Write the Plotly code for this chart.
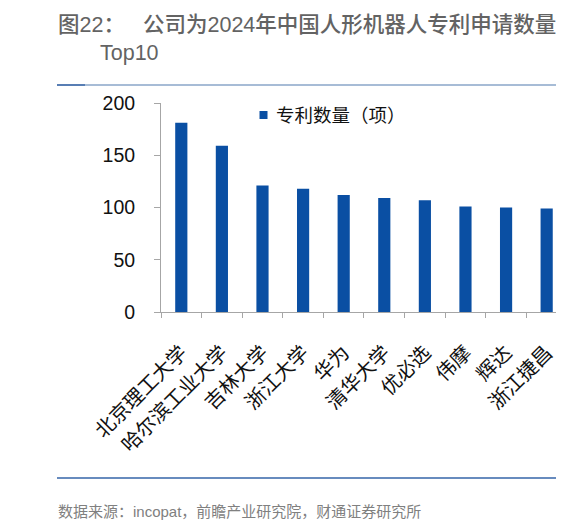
import plotly.graph_objects as go

categories = ["北京理工大学", "哈尔滨工业大学", "吉林大学", "浙江大学", "华为",
              "清华大学", "优必选", "伟摩", "辉达", "浙江捷昌"]
patents = [181, 159, 121, 118, 112, 109, 107, 101, 100, 99]
series_name = "专利数量（项）"
y_ticks = [0, 50, 100, 150, 200]
title_prefix = "图22："
title_main = "公司为2024年中国人形机器人专利申请数量"
title_line2 = "Top10"
source_text = "数据来源：incopat，前瞻产业研究院，财通证券研究所"

# page body has an 8px default margin; work in reference pixel coords and shift
OFF = 8
W, H = 581 - OFF, 529 - OFF
L, R, T, B = 161, 556, 103, 312  # plot area in reference pixels
FONT = "Liberation Sans, Arial, Noto Sans CJK SC, sans-serif"
BAR = "#0A4FA3"


def px(x):
    return (x - L) / (R - L)


def py(y):
    return (B - y) / (B - T)


fig = go.Figure()
fig.add_trace(go.Bar(
    x=categories, y=patents, name=series_name, width=0.3,
    marker=dict(color=BAR, line=dict(width=0)), showlegend=False,
))

fig.update_layout(
    width=W, height=H, autosize=False,
    margin=dict(l=L - OFF, r=(W + OFF) - R, t=T - OFF, b=(H + OFF) - B, pad=0),
    paper_bgcolor="white", plot_bgcolor="white",
    font=dict(family=FONT, color="#111111"),
    xaxis=dict(
        type="category", range=[-0.5, 9.23], tickangle=-45,
        tickson="boundaries", ticks="outside", ticklen=5, tickcolor="#a6a6a6",
        showline=True, linecolor="#a6a6a6", linewidth=1, showgrid=False,
        ticklabelstandoff=20,
        tickfont=dict(size=20, color="#111111"), fixedrange=True,
    ),
    yaxis=dict(
        range=[0, 200], tickvals=y_ticks, ticks="outside", ticklen=6,
        tickcolor="#a6a6a6", showline=True, linecolor="#a6a6a6", linewidth=1,
        showgrid=False, zeroline=False, ticklabelstandoff=15,
        tickfont=dict(size=19.5, color="#111111"), fixedrange=True,
    ),
)

shapes = [
    # top separator line
    dict(type="line", xref="paper", yref="paper", x0=px(57), x1=px(556),
         y0=py(85), y1=py(85), line=dict(color="#8aa6c9", width=1.5)),
    dict(type="line", xref="paper", yref="paper", x0=px(57), x1=px(85),
         y0=py(85), y1=py(85), line=dict(color="#3e6aa8", width=1.5)),
    # bottom separator line
    dict(type="line", xref="paper", yref="paper", x0=px(57), x1=px(556),
         y0=py(478), y1=py(478), line=dict(color="#3565a8", width=1.5)),
    # fragments of neighbouring chart at right edge
    dict(type="line", xref="paper", yref="paper", x0=px(578), x1=px(582),
         y0=py(85), y1=py(85), line=dict(color="#3e6aa8", width=1.5)),
    dict(type="line", xref="paper", yref="paper", x0=px(578), x1=px(582),
         y0=py(478), y1=py(478), line=dict(color="#3565a8", width=1.5)),
    dict(type="rect", xref="paper", yref="paper", x0=px(578.5), x1=px(582),
         y0=py(33), y1=py(17), fillcolor="#777777", line=dict(width=0)),
    # legend marker
    dict(type="rect", xref="paper", yref="paper", x0=px(259.5), x1=px(267.5),
         y0=py(119), y1=py(111), fillcolor=BAR, line=dict(width=0)),
]
fig.update_layout(shapes=shapes)

ann = [
    dict(text=title_prefix, x=px(56), y=py(25), xanchor="left", yanchor="middle",
         font=dict(size=21.5, color="#636363", weight=500)),
    dict(text=title_main, x=px(141), y=py(25), xanchor="left", yanchor="middle",
         font=dict(size=21.5, color="#636363", weight=500)),
    dict(text=title_line2, x=px(98), y=py(53), xanchor="left", yanchor="middle",
         font=dict(size=21.5, color="#636363", weight=500)),
    dict(text=series_name, x=px(274), y=py(115), xanchor="left", yanchor="middle",
         font=dict(size=18.5, color="#111111")),
    dict(text=source_text, x=px(56), y=py(511), xanchor="left", yanchor="middle",
         font=dict(size=15, color="#808080")),
]
for a in ann:
    a.update(xref="paper", yref="paper", showarrow=False)
fig.update_layout(annotations=ann)

fig.write_html("out.html", config={"displayModeBar": False})
